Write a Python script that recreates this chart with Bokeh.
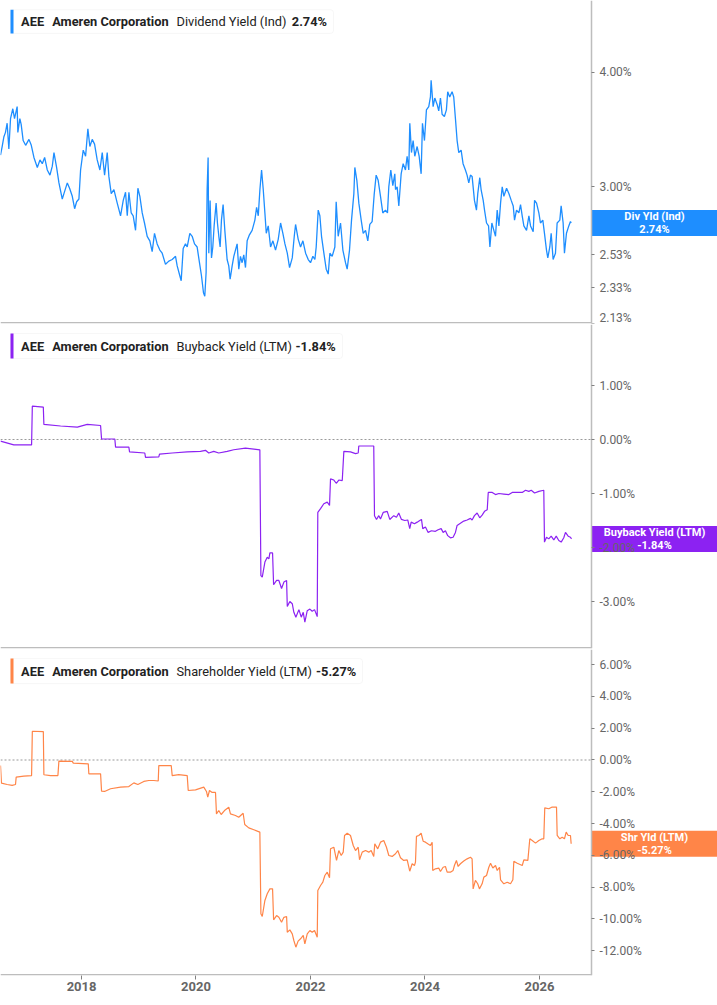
import math
import pandas as pd
from bokeh.plotting import figure
from bokeh.layouts import column
from bokeh.models import (ColumnDataSource, Range1d, FixedTicker, PrintfTickFormatter,
                          DatetimeTickFormatter, Label, BoxAnnotation)
from bokeh.embed import file_html
from bokeh.resources import INLINE

# dates are decimal years, values in percent
div_t = [2016.585, 2016.614, 2016.643, 2016.672, 2016.701, 2016.731, 2016.760, 2016.800, 2016.830, 2016.876,
         2016.888, 2016.923, 2016.946, 2016.981, 2017.022, 2017.080, 2017.121, 2017.167, 2017.226, 2017.272,
         2017.313, 2017.354, 2017.400, 2017.447, 2017.488, 2017.517, 2017.563, 2017.604, 2017.662, 2017.691,
         2017.750, 2017.790, 2017.837, 2017.878, 2017.913, 2017.953, 2017.982, 2018.029, 2018.070, 2018.110,
         2018.145, 2018.186, 2018.227, 2018.273, 2018.320, 2018.361, 2018.402, 2018.448, 2018.477, 2018.518,
         2018.565, 2018.623, 2018.681, 2018.728, 2018.768, 2018.798, 2018.827, 2018.867, 2018.902, 2018.943,
         2018.984, 2019.019, 2019.060, 2019.100, 2019.147, 2019.193, 2019.234, 2019.275, 2019.321, 2019.368,
         2019.409, 2019.467, 2019.525, 2019.584, 2019.642, 2019.671, 2019.717, 2019.741, 2019.776, 2019.816,
         2019.846, 2019.892, 2019.933, 2019.974, 2020.020, 2020.061, 2020.096, 2020.131, 2020.154, 2020.177,
         2020.195, 2020.212, 2020.224, 2020.247, 2020.271, 2020.294, 2020.317, 2020.352, 2020.375, 2020.399,
         2020.422, 2020.445, 2020.474, 2020.504, 2020.544, 2020.573, 2020.597, 2020.632, 2020.661, 2020.690,
         2020.719, 2020.748, 2020.777, 2020.806, 2020.835, 2020.865, 2020.894, 2020.934, 2020.981, 2021.027,
         2021.057, 2021.086, 2021.115, 2021.144, 2021.173, 2021.202, 2021.226, 2021.260, 2021.301, 2021.342,
         2021.388, 2021.435, 2021.476, 2021.516, 2021.552, 2021.593, 2021.633, 2021.680, 2021.715, 2021.738,
         2021.784, 2021.825, 2021.866, 2021.913, 2021.959, 2022.000, 2022.041, 2022.076, 2022.099, 2022.134,
         2022.163, 2022.192, 2022.233, 2022.274, 2022.309, 2022.338, 2022.378, 2022.425, 2022.448, 2022.483,
         2022.524, 2022.565, 2022.611, 2022.640, 2022.681, 2022.716, 2022.757, 2022.774, 2022.809, 2022.844,
         2022.885, 2022.920, 2022.961, 2023.001, 2023.036, 2023.077, 2023.112, 2023.147, 2023.182, 2023.223,
         2023.263, 2023.310, 2023.345, 2023.368, 2023.403, 2023.438, 2023.473, 2023.485, 2023.514, 2023.543,
         2023.584, 2023.619, 2023.659, 2023.688, 2023.717, 2023.735, 2023.764, 2023.793, 2023.822, 2023.863,
         2023.898, 2023.933, 2023.956, 2023.991, 2024.026, 2024.067, 2024.096, 2024.108, 2024.143, 2024.172,
         2024.213, 2024.241, 2024.271, 2024.300, 2024.340, 2024.375, 2024.398, 2024.433, 2024.474, 2024.503,
         2024.533, 2024.562, 2024.591, 2024.632, 2024.666, 2024.707, 2024.736, 2024.766, 2024.795, 2024.824,
         2024.865, 2024.900, 2024.923, 2024.958, 2024.981, 2025.016, 2025.039, 2025.074, 2025.109, 2025.133,
         2025.167, 2025.202, 2025.231, 2025.260, 2025.290, 2025.319, 2025.348, 2025.377, 2025.424, 2025.464,
         2025.505, 2025.540, 2025.563, 2025.598, 2025.639, 2025.668, 2025.697, 2025.726, 2025.773, 2025.814,
         2025.843, 2025.889, 2025.913, 2025.948, 2025.988, 2026.017, 2026.058, 2026.087, 2026.122, 2026.145,
         2026.180, 2026.204, 2026.238, 2026.279, 2026.308, 2026.355, 2026.378, 2026.413, 2026.436, 2026.471,
         2026.512, 2026.541, 2026.553]
div_v = [3.25, 3.32, 3.40, 3.44, 3.52, 3.30, 3.56, 3.65, 3.56, 3.67,
         3.44, 3.56, 3.51, 3.37, 3.33, 3.38, 3.33, 3.23, 3.15, 3.21,
         3.18, 3.23, 3.13, 3.09, 3.16, 3.27, 3.15, 3.03, 2.91, 2.95,
         3.03, 2.99, 2.93, 2.84, 2.89, 2.91, 3.13, 3.29, 3.24, 3.47,
         3.32, 3.38, 3.34, 3.21, 3.13, 3.27, 3.09, 3.27, 3.08, 2.95,
         2.98, 2.88, 2.79, 2.90, 2.96, 2.79, 2.96, 2.81, 2.79, 2.69,
         2.99, 2.93, 2.81, 2.74, 2.65, 2.62, 2.55, 2.67, 2.60, 2.56,
         2.54, 2.47, 2.49, 2.50, 2.52, 2.46, 2.40, 2.37, 2.57, 2.60,
         2.58, 2.67, 2.65, 2.60, 2.58, 2.48, 2.40, 2.30, 2.28, 2.42,
         2.98, 3.23, 2.54, 2.90, 2.51, 2.58, 2.72, 2.88, 2.74, 2.65,
         2.58, 2.76, 2.87, 2.69, 2.50, 2.46, 2.38, 2.46, 2.52, 2.56,
         2.60, 2.44, 2.52, 2.48, 2.53, 2.45, 2.62, 2.66, 2.69, 2.76,
         2.85, 2.79, 2.98, 3.13, 2.98, 2.81, 2.67, 2.72, 2.58, 2.62,
         2.56, 2.63, 2.74, 2.67, 2.60, 2.54, 2.45, 2.51, 2.65, 2.73,
         2.63, 2.58, 2.62, 2.54, 2.50, 2.48, 2.52, 2.50, 2.58, 2.83,
         2.79, 2.65, 2.54, 2.44, 2.41, 2.54, 2.52, 2.58, 2.89, 2.65,
         2.74, 2.56, 2.48, 2.44, 2.56, 2.76, 2.95, 3.15, 3.05, 2.88,
         2.76, 2.67, 2.69, 2.62, 2.73, 2.75, 2.94, 3.09, 3.05, 2.93,
         2.81, 2.83, 2.81, 3.00, 3.13, 3.01, 3.10, 2.98, 3.00, 2.86,
         3.10, 3.18, 3.13, 3.24, 3.13, 3.52, 3.27, 3.37, 3.24, 3.32,
         3.24, 3.10, 3.52, 3.37, 3.64, 3.67, 3.76, 3.92, 3.67, 3.75,
         3.69, 3.63, 3.75, 3.60, 3.58, 3.64, 3.81, 3.76, 3.81, 3.76,
         3.56, 3.37, 3.27, 3.29, 3.18, 3.13, 3.09, 3.03, 3.09, 3.08,
         2.90, 2.83, 2.95, 3.07, 2.98, 2.90, 2.83, 2.74, 2.72, 2.58,
         2.74, 2.69, 2.65, 2.83, 2.72, 2.88, 3.00, 2.93, 2.99, 2.95,
         2.90, 2.86, 2.76, 2.83, 2.81, 2.87, 2.79, 2.72, 2.69, 2.79,
         2.72, 2.68, 2.90, 2.88, 2.81, 2.74, 2.76, 2.67, 2.56, 2.51,
         2.58, 2.67, 2.50, 2.54, 2.74, 2.76, 2.86, 2.74, 2.54, 2.67,
         2.72, 2.75, 2.74]

bb_t = [2016.585, 2016.817, 2017.126, 2017.139, 2017.331, 2017.341, 2017.633, 2017.925, 2018.099, 2018.332,
        2018.349, 2018.581, 2018.594, 2018.826, 2018.838, 2019.105, 2019.118, 2019.350, 2019.362, 2019.584,
        2019.846, 2020.078, 2020.166, 2020.223, 2020.311, 2020.398, 2020.545, 2020.660, 2020.864, 2021.114,
        2021.132, 2021.156, 2021.202, 2021.243, 2021.272, 2021.289, 2021.336, 2021.354, 2021.406, 2021.446,
        2021.493, 2021.534, 2021.581, 2021.593, 2021.638, 2021.680, 2021.708, 2021.743, 2021.796, 2021.837,
        2021.872, 2021.900, 2021.942, 2021.988, 2022.029, 2022.070, 2022.117, 2022.127, 2022.175, 2022.232,
        2022.292, 2022.332, 2022.349, 2022.407, 2022.449, 2022.494, 2022.554, 2022.582, 2022.698, 2022.786,
        2022.833, 2022.843, 2023.105, 2023.118, 2023.153, 2023.193, 2023.223, 2023.270, 2023.340, 2023.385,
        2023.455, 2023.502, 2023.542, 2023.589, 2023.647, 2023.699, 2023.734, 2023.759, 2023.816, 2023.864,
        2023.909, 2023.939, 2023.961, 2024.009, 2024.056, 2024.113, 2024.183, 2024.230, 2024.283, 2024.318,
        2024.358, 2024.398, 2024.445, 2024.492, 2024.533, 2024.562, 2024.620, 2024.678, 2024.737, 2024.795,
        2024.824, 2024.865, 2024.912, 2024.957, 2024.999, 2025.039, 2025.086, 2025.104, 2025.174, 2025.231,
        2025.289, 2025.376, 2025.464, 2025.523, 2025.610, 2025.698, 2025.755, 2025.813, 2025.855, 2025.913,
        2025.988, 2026.075, 2026.087, 2026.122, 2026.162, 2026.204, 2026.250, 2026.292, 2026.337, 2026.379,
        2026.424, 2026.454, 2026.501, 2026.541, 2026.559]
bb_v = [-0.03, -0.10, -0.10, 0.62, 0.60, 0.28, 0.25, 0.23, 0.28, 0.26,
        0.01, 0.01, -0.14, -0.14, -0.23, -0.25, -0.33, -0.32, -0.27, -0.25,
        -0.23, -0.22, -0.20, -0.25, -0.22, -0.25, -0.22, -0.19, -0.16, -0.19,
        -2.52, -2.55, -2.27, -2.18, -2.21, -2.10, -2.10, -2.69, -2.61, -2.61,
        -2.76, -2.64, -2.61, -3.09, -3.00, -3.04, -3.20, -3.29, -3.15, -3.29,
        -3.20, -3.38, -3.17, -3.14, -3.18, -3.15, -3.28, -1.35, -1.28, -1.19,
        -1.16, -1.22, -0.73, -0.75, -0.81, -0.75, -0.76, -0.22, -0.23, -0.26,
        -0.25, -0.12, -0.12, -1.41, -1.48, -1.41, -1.47, -1.35, -1.33, -1.48,
        -1.41, -1.44, -1.36, -1.48, -1.50, -1.49, -1.65, -1.53, -1.56, -1.53,
        -1.50, -1.48, -1.65, -1.62, -1.72, -1.69, -1.70, -1.67, -1.65, -1.72,
        -1.69, -1.78, -1.82, -1.81, -1.72, -1.59, -1.55, -1.51, -1.49, -1.46,
        -1.49, -1.41, -1.36, -1.45, -1.40, -1.33, -1.30, -0.98, -0.98, -1.02,
        -1.00, -1.01, -1.02, -0.98, -0.98, -0.98, -0.94, -0.96, -0.94, -0.99,
        -0.96, -0.94, -1.90, -1.81, -1.84, -1.79, -1.86, -1.79, -1.87, -1.90,
        -1.82, -1.72, -1.79, -1.81, -1.84]

shr_t = [2016.585, 2016.602, 2016.702, 2016.789, 2016.847, 2016.859, 2016.992, 2017.126, 2017.139, 2017.331,
         2017.341, 2017.458, 2017.586, 2017.603, 2017.837, 2017.855, 2018.117, 2018.127, 2018.332, 2018.349,
         2018.402, 2018.506, 2018.681, 2018.826, 2018.913, 2018.983, 2019.088, 2019.175, 2019.263, 2019.340,
         2019.350, 2019.567, 2019.584, 2019.699, 2019.846, 2019.864, 2019.991, 2020.136, 2020.183, 2020.206,
         2020.236, 2020.283, 2020.341, 2020.358, 2020.398, 2020.440, 2020.498, 2020.573, 2020.602, 2020.690,
         2020.747, 2020.824, 2020.852, 2020.922, 2021.009, 2021.114, 2021.132, 2021.156, 2021.202, 2021.243,
         2021.289, 2021.336, 2021.354, 2021.406, 2021.446, 2021.493, 2021.534, 2021.581, 2021.593, 2021.638,
         2021.680, 2021.708, 2021.743, 2021.782, 2021.825, 2021.872, 2021.900, 2021.942, 2021.988, 2022.029,
         2022.070, 2022.117, 2022.127, 2022.175, 2022.215, 2022.250, 2022.292, 2022.332, 2022.349, 2022.407,
         2022.454, 2022.494, 2022.536, 2022.571, 2022.594, 2022.641, 2022.698, 2022.746, 2022.786, 2022.833,
         2022.856, 2022.903, 2022.961, 2023.018, 2023.060, 2023.105, 2023.123, 2023.175, 2023.223, 2023.280,
         2023.327, 2023.368, 2023.427, 2023.485, 2023.525, 2023.572, 2023.629, 2023.689, 2023.734, 2023.776,
         2023.816, 2023.834, 2023.851, 2023.892, 2023.933, 2023.968, 2024.009, 2024.049, 2024.096, 2024.126,
         2024.136, 2024.183, 2024.241, 2024.271, 2024.318, 2024.358, 2024.388, 2024.445, 2024.492, 2024.515,
         2024.550, 2024.580, 2024.620, 2024.678, 2024.737, 2024.795, 2024.824, 2024.842, 2024.882, 2024.922,
         2024.952, 2024.999, 2025.027, 2025.074, 2025.114, 2025.144, 2025.184, 2025.231, 2025.261, 2025.301,
         2025.319, 2025.376, 2025.436, 2025.493, 2025.534, 2025.551, 2025.610, 2025.698, 2025.726, 2025.796,
         2025.830, 2025.872, 2025.930, 2025.988, 2026.047, 2026.075, 2026.092, 2026.162, 2026.222, 2026.297,
         2026.309, 2026.355, 2026.396, 2026.436, 2026.466, 2026.501, 2026.541, 2026.553]
shr_v = [-0.35, -1.46, -1.54, -1.60, -1.54, -1.08, -1.02, -0.98, 1.81, 1.79,
         -0.93, -0.98, -0.98, -0.07, -0.09, -0.20, -0.24, -0.87, -0.87, -1.96,
         -1.98, -1.81, -1.71, -1.67, -1.44, -1.54, -1.35, -1.29, -1.29, -1.32,
         -0.35, -0.35, -0.98, -0.92, -0.98, -1.92, -1.88, -1.71, -1.98, -2.34,
         -1.92, -2.04, -2.04, -3.39, -3.18, -3.43, -3.18, -2.97, -3.39, -3.49,
         -3.60, -3.35, -4.06, -4.27, -4.39, -4.54, -9.68, -9.85, -8.84, -8.42,
         -8.11, -8.11, -10.06, -9.79, -9.90, -10.21, -9.90, -9.85, -10.84, -10.69,
         -10.94, -11.36, -11.78, -11.40, -11.25, -11.04, -11.57, -10.94, -10.73, -10.84,
         -10.73, -11.15, -8.21, -7.90, -7.69, -7.27, -7.06, -7.41, -5.59, -5.49,
         -6.32, -5.70, -6.01, -5.80, -4.75, -4.61, -4.75, -5.38, -5.70, -5.49,
         -6.28, -5.80, -5.70, -5.80, -5.70, -6.07, -5.27, -5.59, -5.17, -5.07,
         -5.49, -6.01, -6.07, -5.90, -5.70, -6.15, -6.32, -6.28, -7.00, -6.53,
         -6.64, -6.43, -4.81, -4.75, -4.61, -5.11, -5.17, -5.27, -5.38, -5.17,
         -6.95, -6.85, -6.80, -7.02, -6.75, -6.70, -7.06, -7.06, -6.95, -6.64,
         -6.32, -6.70, -6.53, -6.36, -6.22, -6.12, -6.22, -8.11, -7.58, -7.79,
         -8.11, -7.79, -7.37, -7.27, -6.75, -6.50, -6.80, -6.64, -6.95, -6.75,
         -7.54, -7.79, -7.69, -7.79, -7.54, -6.37, -6.50, -6.64, -6.28, -6.32,
         -4.96, -5.07, -5.23, -5.07, -4.96, -4.96, -3.01, -3.07, -2.96, -2.96,
         -4.75, -4.96, -4.86, -4.96, -4.54, -4.75, -4.75, -5.27]

year_ticks = [2018, 2020, 2022, 2024, 2026]
div_ticks = [2.13, 2.33, 2.53, 3.00, 4.00]
bb_ticks = [1, 0, -1, -2, -3]
shr_ticks = [6, 4, 2, 0, -2, -4, -6, -8, -10, -12]

BLUE = "#1e8eff"
PURPLE = "#8c22f2"
ORANGE = "#ff8548"
FONT = "Roboto"
AXIS = "#bdbdbd"
PX_PER_YEAR = 57.25


def to_ms(y):
    d = pd.Timestamp(int(y), 1, 1) + pd.Timedelta(days=(y - int(y)) * 365.25)
    return d.timestamp() * 1000


# the frame spans the whole width; the value axis sits inside it at x_axis
x0 = 2016.585
x_start, x_axis = to_ms(x0), to_ms(x0 + 591 / PX_PER_YEAR)
x_range = Range1d(x_start, to_ms(x0 + 717 / PX_PER_YEAR))


def panel(h, y_range, y_type, ticks, bottom):
    p = figure(width=717, height=h, x_axis_type="datetime", y_axis_type=y_type,
               x_range=x_range, y_range=y_range, y_axis_location="right",
               output_backend="svg", toolbar_location=None,
               min_border_left=0, min_border_right=0, min_border_top=0,
               min_border_bottom=bottom)
    p.outline_line_color = None
    p.grid.visible = False
    ya = p.yaxis[0]
    ya.fixed_location = x_axis
    ya.ticker = FixedTicker(ticks=ticks)
    ya.formatter = PrintfTickFormatter(format="%.2f%%")
    ya.axis_line_color = AXIS
    ya.axis_line_width = 1.5
    ya.major_tick_out = 3
    ya.major_tick_in = 0
    ya.major_tick_line_color = "#808080"
    ya.minor_tick_line_color = None
    ya.major_label_standoff = 5
    ya.major_label_text_font = FONT
    ya.major_label_text_font_size = "12px"
    ya.major_label_text_color = "#666666"
    return p


def px_to_data(p, v, px, frame_h):
    # value lying px pixels above v
    s, e = p.y_range.start, p.y_range.end
    if p.y_scale.__class__.__name__ == "LogScale":
        return v * math.exp(px * math.log(e / s) / frame_h)
    return v + px * (e - s) / frame_h


def base_line(p, frame_h):
    p.add_layout(BoxAnnotation(right=x_axis, top=px_to_data(p, p.y_range.start, 1.5, frame_h),
                               fill_color=AXIS, fill_alpha=1, line_color=None))


def zero_line(p):
    p.segment(x0=[x_start], x1=[x_axis], y0=[0], y1=[0], line_color="#9a9a9a",
              line_dash="2 2", line_width=1.2)


def legend(p, top, bot, mid, right, color, metric, val, val_x):
    p.add_layout(BoxAnnotation(left=10, right=right, top=top, bottom=bot,
                               left_units="screen", right_units="screen",
                               fill_color="white", fill_alpha=1, line_color="#e4e4e4",
                               line_width=1, border_radius=3))
    p.add_layout(BoxAnnotation(left=10, right=13, top=top, bottom=bot,
                               left_units="screen", right_units="screen",
                               fill_color=color, fill_alpha=1, line_color=None))
    for txt, x, bold in [("AEE", 20.6, True), ("Ameren Corporation", 51.7, True),
                         (metric, 176, False), (val, val_x, True)]:
        p.add_layout(Label(x=x, y=mid, x_units="screen", text=txt, text_font=FONT,
                           text_font_size="12.8px", text_color="#222222",
                           text_font_style="bold" if bold else "normal",
                           text_baseline="middle"))


def end_label(p, frame_h, last, color, text):
    p.add_layout(BoxAnnotation(left=x_axis, top=px_to_data(p, last, 13, frame_h),
                               bottom=px_to_data(p, last, -13, frame_h),
                               fill_color=color, fill_alpha=1, line_color=None, level="underlay"))
    p.add_layout(Label(x=x_axis, y=last, x_offset=63, text=text, text_align="center",
                       text_baseline="middle", text_font=FONT, text_font_size="11px",
                       text_font_style="bold", text_color="white", text_line_height=1.0))


# dividend yield
p1 = panel(324, Range1d(2.129, 4.79), "log", div_ticks, 1)
p1.xaxis.visible = False
base_line(p1, 323)
p1.line(x="t", y="v", source=ColumnDataSource(dict(t=[to_ms(t) for t in div_t], v=div_v)),
        line_color=BLUE, line_width=1.3)
legend(p1, 4.68, 4.41, 4.545, 333, BLUE, "Dividend Yield (Ind)", "2.74%", 291.3)
end_label(p1, 323, div_v[-1], BLUE, "Div Yld (Ind)\n2.74%")

# buyback yield
p2 = panel(325, Range1d(-3.870, 2.130), "linear", bb_ticks, 1)
p2.xaxis.visible = False
base_line(p2, 324)
zero_line(p2)
p2.line(x="t", y="v", source=ColumnDataSource(dict(t=[to_ms(t) for t in bb_t], v=bb_v)),
        line_color=PURPLE, line_width=1.2)
legend(p2, 1.963, 1.50, 1.728, 342, PURPLE, "Buyback Yield (LTM)", "-1.84%", 295)
end_label(p2, 324, bb_v[-1], PURPLE, "Buyback Yield (LTM)\n-1.84%")

# shareholder yield
p3 = panel(351, Range1d(-13.562, 6.954), "linear", shr_ticks, 25)
base_line(p3, 326)
zero_line(p3)
p3.line(x="t", y="v", source=ColumnDataSource(dict(t=[to_ms(t) for t in shr_t], v=shr_v)),
        line_color=ORANGE, line_width=1.2)
legend(p3, 6.39, 4.81, 5.59, 362, ORANGE, "Shareholder Yield (LTM)", "-5.27%", 315.5)
end_label(p3, 326, shr_v[-1], ORANGE, "Shr Yld (LTM)\n-5.27%")
xa = p3.xaxis[0]
xa.ticker = FixedTicker(ticks=[to_ms(y) for y in year_ticks])
xa.formatter = DatetimeTickFormatter(years="%Y", months="%Y", days="%Y")
xa.axis_line_color = None
xa.minor_tick_line_color = None
xa.major_tick_in = 0
xa.major_tick_out = 4
xa.major_tick_line_color = "#808080"
xa.major_label_standoff = 2
xa.major_label_text_font = FONT
xa.major_label_text_font_size = "13px"
xa.major_label_text_font_style = "bold"
xa.major_label_text_color = "#666666"

layout = column(p1, p2, p3)
open("out.html", "w").write(file_html(layout, INLINE))
